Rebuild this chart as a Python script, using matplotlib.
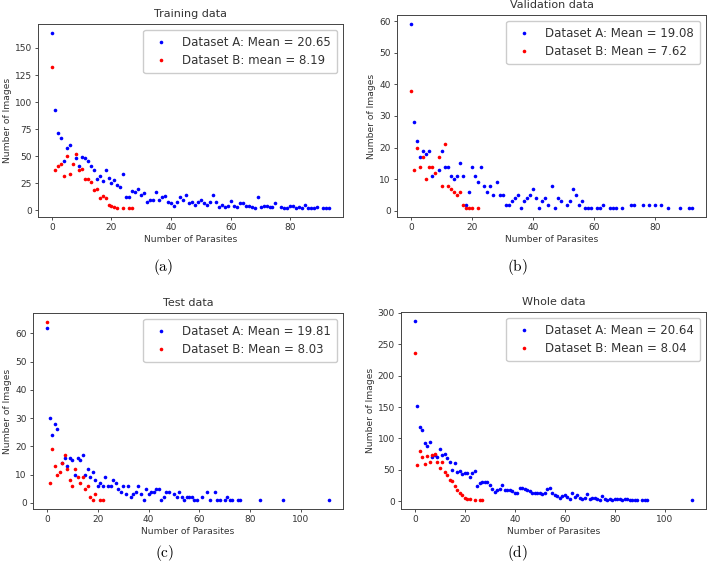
import matplotlib.pyplot as plt

plt.rcParams['mathtext.fontset'] = 'cm'

# Training data
a_blue_x = [0, 1, 2, 3, 4, 5, 6, 8, 9, 10, 11, 12, 13, 14, 15, 16, 17, 18, 19, 20, 21, 22, 23, 24,
            25, 26, 27, 28, 29, 30, 31, 32, 33, 34, 35, 36, 37, 38, 39, 40, 41, 42, 43, 44, 45, 46,
            47, 48, 49, 50, 51, 52, 53, 54, 55, 56, 57, 58, 59, 60, 61, 62, 63, 64, 65, 66, 67, 68,
            69, 70, 71, 72, 73, 74, 75, 77, 78, 79, 80, 81, 82, 83, 84, 85, 86, 87, 88, 89, 91, 92, 93]
a_blue_y = [164, 93, 71, 67, 46, 58, 60, 48, 41, 49, 48, 46, 41, 37, 29, 32, 27, 37, 30, 25, 28, 23, 22, 34,
            12, 12, 18, 17, 20, 14, 16, 8, 10, 10, 17, 10, 12, 13, 8, 7, 4, 8, 12, 10, 14, 7,
            8, 5, 8, 10, 7, 5, 8, 14, 8, 3, 5, 3, 4, 9, 4, 3, 7, 7, 4, 4, 3, 2,
            12, 3, 4, 4, 3, 3, 7, 3, 2, 2, 4, 4, 2, 3, 2, 5, 2, 2, 2, 3, 2, 2, 2]
a_red_x = [0, 1, 2, 3, 4, 5, 6, 7, 8, 9, 10, 11, 12, 13, 14, 15, 16, 17, 18, 19, 20, 21, 22, 24, 26, 27]
a_red_y = [132, 37, 41, 43, 32, 50, 34, 43, 52, 37, 38, 29, 29, 26, 19, 20, 11, 13, 11, 5, 4, 3, 2, 2, 2, 2]

# Validation data
b_blue_x = [0, 1, 2, 3, 4, 5, 6, 7, 9, 10, 11, 12, 13, 14, 15, 16, 17, 18, 19, 20, 21, 22, 23, 24,
            25, 26, 27, 28, 29, 30, 31, 32, 33, 34, 35, 36, 37, 38, 39, 40, 41, 42, 43, 44, 45, 46,
            47, 48, 49, 51, 52, 53, 54, 55, 56, 57, 58, 59, 61, 62, 63, 65, 66, 67, 69, 72, 73, 76,
            78, 80, 82, 84, 88, 91, 92]
b_blue_y = [59, 28, 22, 17, 19, 18, 19, 11, 13, 19, 14, 14, 11, 10, 11, 15, 11, 2, 6, 14, 11, 9, 14, 8,
            6, 8, 5, 9, 5, 5, 2, 2, 3, 4, 5, 1, 3, 4, 5, 7, 4, 1, 3, 4, 2, 8,
            1, 4, 3, 2, 3, 7, 5, 2, 3, 1, 1, 1, 1, 1, 2, 1, 1, 1, 1, 2, 2, 2,
            2, 2, 2, 1, 1, 1, 1]
b_red_x = [0, 1, 2, 3, 4, 5, 6, 7, 8, 9, 10, 11, 12, 13, 14, 15, 16, 17, 18, 19, 20, 22]
b_red_y = [38, 13, 20, 14, 17, 10, 14, 14, 12, 17, 8, 21, 8, 7, 6, 5, 6, 2, 1, 1, 1, 1]

# Test data
c_blue_x = [0, 1, 2, 3, 4, 6, 7, 8, 9, 10, 11, 12, 13, 14, 15, 16, 17, 18, 19, 20, 21, 22, 23, 24,
            25, 26, 27, 28, 29, 30, 31, 32, 33, 34, 35, 36, 37, 38, 39, 40, 41, 42, 43, 44, 45, 46,
            47, 48, 50, 51, 52, 53, 54, 55, 56, 57, 58, 59, 61, 63, 64, 66, 67, 68, 70, 71, 72, 73,
            75, 76, 84, 93, 111]
c_blue_y = [62, 30, 24, 28, 26, 14, 16, 13, 16, 15, 10, 16, 15, 17, 10, 12, 9, 11, 8, 6, 7, 6, 9, 6,
            6, 8, 7, 5, 4, 6, 3, 6, 2, 3, 4, 6, 3, 1, 5, 3, 4, 4, 5, 5, 1, 2,
            4, 4, 3, 2, 4, 2, 1, 2, 2, 2, 1, 1, 2, 4, 1, 4, 1, 1, 1, 2, 1, 1,
            1, 1, 1, 1, 1]
c_red_x = [0, 1, 2, 3, 4, 5, 6, 7, 8, 9, 10, 11, 12, 13, 14, 15, 16, 17, 18, 19, 21, 22]
c_red_y = [64, 7, 19, 13, 10, 11, 14, 17, 12, 8, 6, 12, 9, 7, 9, 5, 6, 2, 1, 3, 1, 1]

# Whole data
d_blue_x = list(range(0, 90)) + [91, 92, 93, 111]
d_blue_y = [287, 152, 118, 113, 93, 88, 94, 71, 73, 70, 84, 73, 76, 69, 63, 50, 61, 47, 49, 44,
            45, 45, 39, 45, 49, 24, 29, 31, 31, 30, 26, 20, 15, 18, 20, 26, 18, 18, 18, 16,
            13, 13, 21, 21, 20, 18, 16, 13, 13, 14, 13, 11, 14, 19, 21, 13, 10, 9, 6, 9,
            10, 7, 4, 13, 7, 10, 6, 4, 6, 12, 4, 6, 6, 4, 2, 9, 4, 2, 4, 2,
            4, 4, 3, 2, 4, 3, 2, 2, 2, 2, 2, 2, 2, 2]
d_red_x = [0, 1, 2, 3, 4, 5, 6, 7, 8, 9, 10, 11, 12, 13, 14, 15, 16, 17, 18, 19, 20, 21, 22, 24, 26, 27]
d_red_y = [236, 58, 80, 70, 59, 72, 63, 74, 75, 62, 53, 63, 47, 42, 34, 32, 25, 18, 13, 10, 6, 4, 3, 2, 2, 2]

titles = ["Training data", "Validation data", "Test data", "Whole data"]
labels_a = ["Dataset A: Mean = 20.65", "Dataset A: Mean = 19.08",
            "Dataset A: Mean = 19.81", "Dataset A: Mean = 20.64"]
labels_b = ["Dataset B: mean = 8.19", "Dataset B: Mean = 7.62",
            "Dataset B: Mean = 8.03", "Dataset B: Mean = 8.04"]
captions = ["(a)", "(b)", "(c)", "(d)"]
ytick_steps = [25, 10, 10, 50]

series = [(a_blue_x, a_blue_y, a_red_x, a_red_y),
          (b_blue_x, b_blue_y, b_red_x, b_red_y),
          (c_blue_x, c_blue_y, c_red_x, c_red_y),
          (d_blue_x, d_blue_y, d_red_x, d_red_y)]

# axes boxes in pixels (left, top, right, bottom) of a 708x573 canvas
W, H = 708, 573
boxes = [(38, 24, 343, 217), (397, 15, 706, 217), (33, 313, 343, 509), (401, 312, 706, 509)]
cap_pos = [(163, 267), (517, 267), (165, 553), (517, 553)]

fig = plt.figure(figsize=(7.08, 5.73), dpi=100)
grey = '#444444'
txtc = '#333333'

for i in range(4):
    l, t, r, b = boxes[i]
    ax = fig.add_axes([l / W, 1 - b / H, (r - l) / W, (b - t) / H])
    bx, by, rx, ry = series[i]
    ax.plot(bx, by, 'o', color='blue', markersize=2.6, markeredgewidth=0, label=labels_a[i])
    ax.plot(rx, ry, 'o', color='red', markersize=2.6, markeredgewidth=0, label=labels_b[i])
    ymax = max(max(by), max(ry))
    ax.yaxis.set_major_locator(plt.MultipleLocator(ytick_steps[i]))
    ax.set_title(titles[i], fontsize=8, color=txtc, pad=5)
    ax.set_xlabel("Number of Parasites", fontsize=6.6, color=txtc, labelpad=2)
    ax.set_ylabel("Number of Images", fontsize=6.6, color=txtc, labelpad=2)
    ax.tick_params(labelsize=6.5, colors=txtc, length=2.5, width=0.6, pad=2)
    for s in ax.spines.values():
        s.set_color(grey)
        s.set_linewidth(0.7)
    leg = ax.legend(loc='upper right', fontsize=8.5, handletextpad=0.8,
                    borderpad=0.5, labelspacing=0.45, framealpha=1)
    leg.get_frame().set_edgecolor('#cccccc')
    for txt in leg.get_texts():
        txt.set_color(txtc)
    cx, cy = cap_pos[i]
    fig.text(cx / W, 1 - cy / H, r'$\mathrm{' + captions[i] + '}$', fontsize=11,
             ha='center', va='center')

fig.savefig('out.png', dpi=100)
